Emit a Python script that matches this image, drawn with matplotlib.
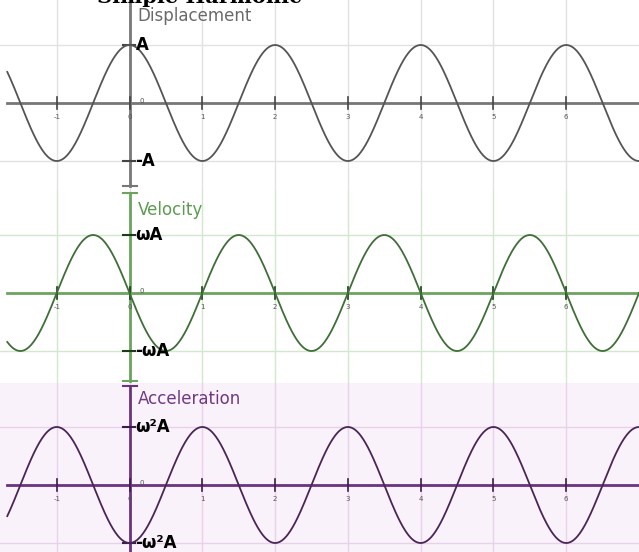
import numpy as np
import matplotlib
matplotlib.use('Agg')
import matplotlib.pyplot as plt

# Valores
x_ticks = [-1, 0, 1, 2, 3, 4, 5, 6]
x_min, x_max = -1.78, 7.0
x_start = -1.68

titles = ['Displacement', 'Velocity', 'Acceleration']
top_labels = ['A', 'ωA', 'ω²A']
bottom_labels = ['-A', '-ωA', '-ω²A']
amplitude = [1.0, 1.0, 1.0]
period = [2.0, 2.0, 2.0]
# fase em unidades de x (posicao do primeiro maximo)
peak_at = [0.0, -0.5, -1.0]

curve_colors = ['#555555', '#3f6e38', '#4a2656']
axis_colors = ['#777777', '#6aa45e', '#6a3380']
grid_colors = ['#e2e2e2', '#d2e8cc', '#e6d3ea']
title_colors = ['#6a6a6a', '#5c9c50', '#6e3a84']
tick_colors = ['#444444', '#1e3a1a', '#3c1c48']
bg_colors = ['white', 'white', '#faf2fa']

# layout em pixels: (topo, base, zero)
W, H = 639, 552
panels = [(0, 190, 103), (190, 383, 293), (383, 552, 485)]
px_x = 73.0
px_y = 58.0

fig = plt.figure(figsize=(W / 100, H / 100), dpi=100)

for i, (top, bot, zero) in enumerate(panels):
    ax = fig.add_axes([0, 1 - bot / H, 1, (bot - top) / H])
    ax.set_xlim(x_min, x_max)
    ax.set_ylim(-(bot - zero) / px_y, (zero - top) / px_y)
    ax.set_facecolor(bg_colors[i])
    for s in ax.spines.values():
        s.set_visible(False)
    ax.set_xticks([])
    ax.set_yticks([])

    # grade
    for t in x_ticks:
        ax.axvline(t, color=grid_colors[i], lw=1, zorder=1)
    for v in (amplitude[i], -amplitude[i]):
        ax.axhline(v, color=grid_colors[i], lw=1, zorder=1)

    # eixo x
    ax.plot([x_start, x_max], [0, 0], color=axis_colors[i], lw=2, zorder=2)
    for t in x_ticks:
        ax.plot([t, t], [-6 / px_y, 6 / px_y], color=tick_colors[i], lw=1.2, zorder=3)
        ax.text(t, -14 / px_y, str(t), fontsize=5, color='#555555',
                ha='center', va='center', zorder=5)
    ax.text(12 / px_x, 2 / px_y, '0', fontsize=5, color='#555555',
            ha='center', va='center', zorder=5)

    # eixo y com quebras
    y_lo, y_hi = ax.get_ylim()
    lo = y_lo + (4 / px_y if i == 0 else (2 / px_y if i == 1 else 0))
    hi = y_hi - (3 / px_y if i > 0 else 0)
    ax.plot([0, 0], [lo, hi], color=axis_colors[i], lw=2, zorder=2)
    bar_w = 7 / px_x
    if i < 2:
        ax.plot([-bar_w, bar_w], [lo, lo], color=axis_colors[i], lw=1.5, zorder=3)
    if i > 0:
        ax.plot([-bar_w, bar_w], [hi, hi], color=axis_colors[i], lw=1.5, zorder=3)

    for v, lab in ((amplitude[i], top_labels[i]), (-amplitude[i], bottom_labels[i])):
        ax.plot([-7 / px_x, 5 / px_x], [v, v], color=tick_colors[i], lw=1.5, zorder=3)
        ax.text(6 / px_x, v, lab, fontsize=12, fontweight='bold', color='black',
                ha='left', va='center', zorder=4)

    # curva
    x = np.linspace(x_start, x_max, 800)
    y = amplitude[i] * np.cos(2 * np.pi * (x - peak_at[i]) / period[i])
    ax.plot(x, y, color=curve_colors[i], lw=1.3, zorder=3)

    ax.text(8 / px_x, (zero - top - (16 if i != 1 else 20)) / px_y, titles[i],
            fontsize=12, color=title_colors[i], ha='left', va='center', zorder=4)

# titulo cortado no topo (como na imagem original)
fig.text(97 / W, 1 - 3 / H, 'Simple Harmonic', fontsize=15, fontweight='bold',
         family='DejaVu Serif', color='black', ha='left', va='baseline')

fig.savefig('out.png', dpi=100)
